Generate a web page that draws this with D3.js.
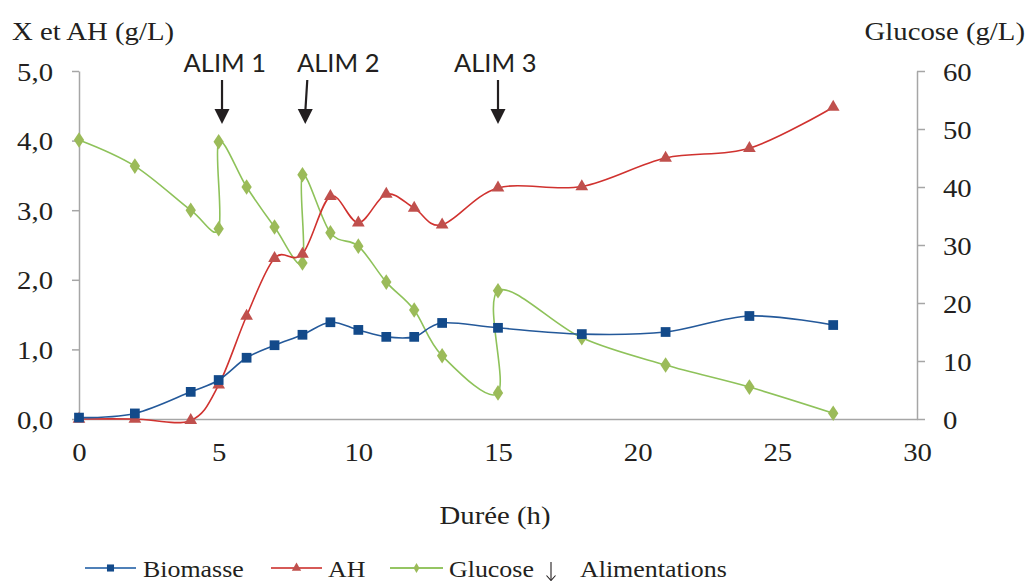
<!DOCTYPE html>
<html>
<head>
<meta charset="utf-8">
<script src="https://cdn.jsdelivr.net/npm/d3@7"></script>
<style>
  html, body { margin: 0; padding: 0; background: #fff; }
  svg { display: block; }
</style>
</head>
<body>
<svg id="chart" width="1030" height="581"></svg>
<script>
// ---- data ----
const time = [0, 2, 4, 5, 6, 7, 8, 9, 10, 11, 12, 13, 15, 18, 21, 24, 27];
const biomasse = [0.02, 0.08, 0.39, 0.56, 0.88, 1.06, 1.21, 1.39, 1.28, 1.18, 1.18, 1.38, 1.31, 1.22, 1.25, 1.48, 1.35];
const ah = [0.0, 0.0, -0.02, 0.49, 1.48, 2.31, 2.37, 3.2, 2.82, 3.23, 3.03, 2.79, 3.32, 3.34, 3.75, 3.89, 4.48];
const glucoseTime = [0, 2, 4, 5, 5, 6, 7, 8, 8, 9, 10, 11, 12, 13, 15, 15, 18, 21, 24, 27];
const glucose = [48.1, 43.6, 36.0, 32.8, 47.8, 40.0, 33.1, 26.9, 42.1, 32.1, 29.8, 23.6, 18.8, 10.9, 4.5, 22.1, 14.0, 9.3, 5.5, 1.0];
const alimLabels = ["ALIM 1", "ALIM 2", "ALIM 3"];
const alimTimes = [5.12, 8.1, 15.0];
const alimLabelTimes = [5.22, 9.28, 14.9];
const xTicks = [0, 5, 10, 15, 20, 25, 30];
const yLeftTicks = [0, 1, 2, 3, 4, 5];
const yRightTicks = [0, 10, 20, 30, 40, 50, 60];

// ---- layout ----
const svg = d3.select("#chart");
const X0 = 79, X1 = 917, Y0 = 419, Y1 = 71;
const x = d3.scaleLinear().domain([0, 30]).range([X0, X1]);
const yL = d3.scaleLinear().domain([0, 5]).range([Y0, Y1]);
const yR = d3.scaleLinear().domain([0, 60]).range([Y0, Y1]);
const SERIF = "'Liberation Serif', 'Times New Roman', Tinos, serif";
const SANS = "Lato, 'Open Sans', sans-serif";
const SX = 1.15;
const axisColor = "#a6a6a6";
const textColor = "#231f20";

function stretchTexts(sel, sx) {
  sel.selectAll("text").each(function () {
    const t = d3.select(this);
    const xv = +t.attr("x") || 0;
    t.attr("x", xv / sx).attr("transform", `scale(${sx},1)`);
  });
}
function addText(xp, yp, str, size, anchor, family, sx) {
  return svg.append("text")
    .attr("transform", `translate(${xp},${yp}) scale(${sx},1)`)
    .attr("text-anchor", anchor)
    .style("font-family", family)
    .style("font-size", size + "px")
    .attr("fill", textColor)
    .text(str);
}

// axes
const fmt = d => d3.format(".1f")(d).replace(".", ",");
const gL = svg.append("g").attr("transform", `translate(${X0},0)`)
  .call(d3.axisLeft(yL).tickValues(yLeftTicks).tickFormat(fmt).tickSize(7).tickPadding(19).tickSizeOuter(0));
const gR = svg.append("g").attr("transform", `translate(${X1},0)`)
  .call(d3.axisRight(yR).tickValues(yRightTicks).tickFormat(d3.format("d")).tickSize(8).tickPadding(18).tickSizeOuter(0));
const gB = svg.append("g").attr("transform", `translate(0,${Y0})`)
  .call(d3.axisBottom(x).tickValues(xTicks).tickFormat(d3.format("d")).tickSize(0).tickPadding(24).tickSizeOuter(0));

[gL, gR, gB].forEach(g => {
  g.attr("font-family", null).attr("font-size", null);
  g.select(".domain").attr("stroke", axisColor).attr("stroke-width", 1.5);
  g.selectAll(".tick line").attr("stroke", axisColor).attr("stroke-width", 1.5);
  g.selectAll("text").style("font-family", SERIF).style("font-size", "25px").attr("fill", textColor);
});
gL.selectAll("text").attr("dy", "0.36em");
gR.selectAll("text").attr("dy", "0.36em");
stretchTexts(gL, SX); stretchTexts(gR, SX); stretchTexts(gB, SX);

// axis titles
addText(12, 40, "X et AH (g/L)", 25, "start", SERIF, SX);
addText(1025, 40, "Glucose (g/L)", 25, "end", SERIF, SX);
addText(495, 524, "Durée (h)", 25, "middle", SERIF, SX);

// lines
const curve = d3.curveCardinal.tension(0);
const lineBio = d3.line().x((d, i) => x(time[i])).y(d => yL(d)).curve(curve);
const lineAH = d3.line().x((d, i) => x(time[i])).y(d => yL(d)).curve(curve);
const lineGlu = d3.line().x((d, i) => x(glucoseTime[i])).y(d => yR(d)).curve(curve);

const cBioLine = "#24599a", cBio = "#134a8a";
const cAHLine = "#d0322f", cAH = "#c0504d";
const cGluLine = "#8ec25a", cGlu = "#9bbb59";

svg.append("path").datum(glucose).attr("d", lineGlu).attr("fill", "none").attr("stroke", cGluLine).attr("stroke-width", 1.6);
svg.append("path").datum(ah).attr("d", lineAH).attr("fill", "none").attr("stroke", cAHLine).attr("stroke-width", 1.6);
svg.append("path").datum(biomasse).attr("d", lineBio).attr("fill", "none").attr("stroke", cBioLine).attr("stroke-width", 1.6);

// markers
const sq = d3.symbol().type(d3.symbolSquare).size(95);
const tri = d3.symbol().type(d3.symbolTriangle).size(70);
const dia = d3.symbol().type(d3.symbolDiamond).size(70);

svg.append("g").selectAll("path").data(glucose).join("path")
  .attr("d", dia).attr("fill", cGlu)
  .attr("transform", (d, i) => `translate(${x(glucoseTime[i])},${yR(d)}) scale(1.15,1)`);
svg.append("g").selectAll("path").data(ah).join("path")
  .attr("d", tri).attr("fill", cAH)
  .attr("transform", (d, i) => `translate(${x(time[i])},${yL(d)})`);
svg.append("g").selectAll("path").data(biomasse).join("path")
  .attr("d", sq).attr("fill", cBio)
  .attr("transform", (d, i) => `translate(${x(time[i])},${yL(d)})`);

// ALIM arrows
alimTimes.forEach((t, i) => {
  const ax = x(t);
  const top = 80, tip = 124;
  const tilt = i === 1 ? 2 : 0;
  svg.append("line").attr("x1", ax + tilt).attr("y1", top).attr("x2", ax).attr("y2", tip - 12)
    .attr("stroke", "#231f20").attr("stroke-width", 2.2);
  svg.append("path")
    .attr("d", `M${ax - 7.5},${tip - 15} L${ax + 7.5},${tip - 15} L${ax},${tip} Z`)
    .attr("fill", "#231f20");
  addText(x(alimLabelTimes[i]), 72, alimLabels[i], 25, "middle", SANS, 1.02);
});

// legend
const LY = 568;
const legend = [
  { x0: 85, x1: 136, text: "Biomasse", tx: 143, line: "#4f80b8", fill: cBio, sym: d3.symbolSquare, size: 50 },
  { x0: 271, x1: 322, text: "AH", tx: 328, line: "#d65a57", fill: cAH, sym: d3.symbolTriangle, size: 38 },
  { x0: 390, x1: 443, text: "Glucose", tx: 449, line: "#95c563", fill: cGlu, sym: d3.symbolDiamond, size: 30 }
];
legend.forEach(l => {
  svg.append("line").attr("x1", l.x0).attr("x2", l.x1).attr("y1", LY).attr("y2", LY)
    .attr("stroke", l.line).attr("stroke-width", 2);
  svg.append("path").attr("d", d3.symbol().type(l.sym).size(l.size))
    .attr("transform", `translate(${(l.x0 + l.x1) / 2},${LY})`).attr("fill", l.fill);
  addText(l.tx, 577, l.text, 24, "start", SERIF, 1.08);
});
// legend arrow for Alimentations
svg.append("line").attr("x1", 551).attr("x2", 551).attr("y1", 562).attr("y2", 580)
  .attr("stroke", textColor).attr("stroke-width", 1.1);
svg.append("path").attr("d", "M546.5,575.5 L551,580.5 L555.5,575.5").attr("fill", "none")
  .attr("stroke", textColor).attr("stroke-width", 1.1);
addText(580, 577, "Alimentations", 24, "start", SERIF, 1.08);
</script>
</body>
</html>
